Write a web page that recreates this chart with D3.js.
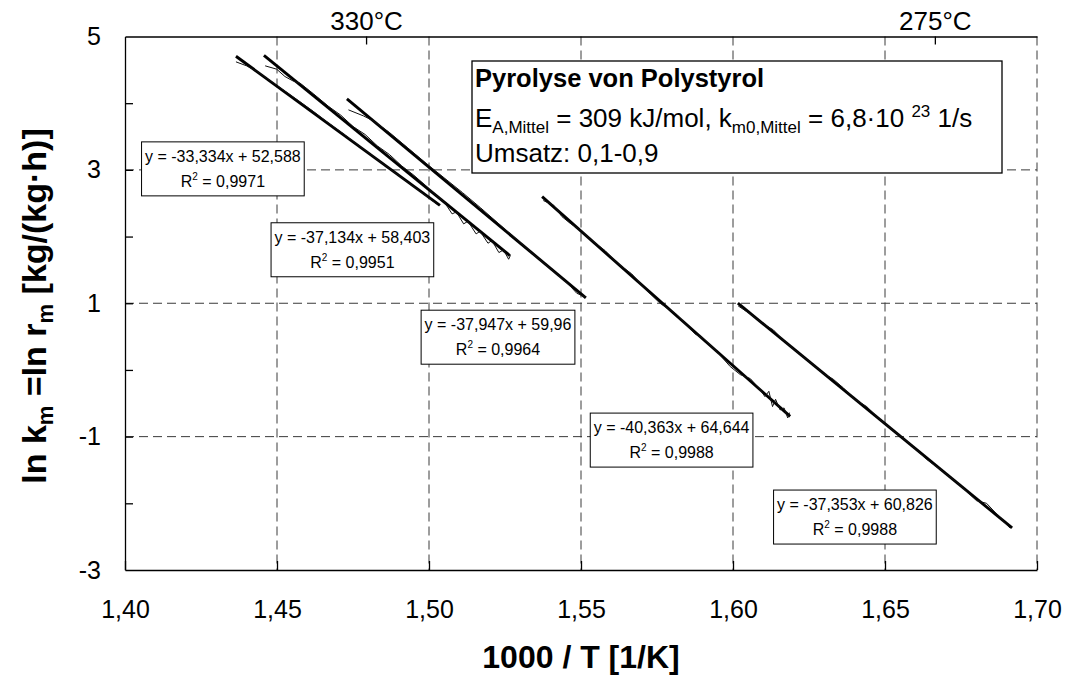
<!DOCTYPE html>
<html>
<head>
<meta charset="utf-8">
<script src="https://cdn.jsdelivr.net/npm/d3@7"></script>
<style>
  body { margin: 0; background: #fff; }
  svg { display: block; font-family: "Liberation Sans", Arial, sans-serif; }
</style>
</head>
<body>
<svg id="chart" width="1066" height="678"></svg>
<script>
// Arrhenius plot of polystyrene pyrolysis: ln k_m over 1000/T for five runs

// Measured curves (1000/T in 1/K, ln k_m)
const run1X = [1.4365, 1.4400, 1.4433, 1.4470, 1.4520, 1.4570, 1.4620, 1.4670, 1.4720, 1.4770, 1.4820, 1.4870, 1.4920, 1.4970, 1.5025];
const run1Y = [4.62, 4.56, 4.48, 4.36, 4.20, 4.04, 3.875, 3.70, 3.535, 3.36, 3.19, 3.02, 2.85, 2.68, 2.49];

const run2X = [1.4461, 1.4499, 1.4526, 1.4554, 1.4576, 1.4620, 1.4670, 1.4710, 1.4750, 1.4790, 1.4830, 1.4870, 1.4910, 1.4950, 1.4990, 1.5020, 1.5050, 1.5076, 1.5090, 1.5114, 1.5128, 1.5155, 1.5168, 1.5194, 1.5207, 1.5230, 1.5245, 1.5262, 1.5268];
const run2Y = [4.56, 4.51, 4.40, 4.33, 4.30, 4.14, 3.95, 3.82, 3.65, 3.53, 3.36, 3.23, 3.06, 2.92, 2.76, 2.63, 2.52, 2.34, 2.37, 2.19, 2.23, 2.04, 2.08, 1.90, 1.94, 1.76, 1.80, 1.66, 1.72];

const run3X = [1.4735, 1.4784, 1.4817, 1.4870, 1.4930, 1.4990, 1.5050, 1.5110, 1.5170, 1.5230, 1.5290, 1.5350, 1.5410, 1.5460, 1.5486, 1.5516];
const run3Y = [3.90, 3.81, 3.735, 3.56, 3.33, 3.10, 2.88, 2.66, 2.43, 2.19, 1.95, 1.71, 1.48, 1.28, 1.15, 1.09];

const run4X = [1.5376, 1.5410, 1.5437, 1.5464, 1.5500, 1.5530, 1.5579, 1.5620, 1.5667, 1.5710, 1.5760, 1.5815, 1.5850, 1.5875, 1.5903, 1.5950, 1.5991, 1.6024, 1.6057, 1.6090, 1.6105, 1.6118, 1.6130, 1.6140, 1.6155, 1.6168, 1.6180, 1.6186];
const run4Y = [2.54, 2.47, 2.30, 2.20, 2.09, 1.96, 1.79, 1.60, 1.44, 1.22, 1.00, 0.83, 0.66, 0.54, 0.47, 0.26, 0.05, -0.07, -0.13, -0.30, -0.40, -0.32, -0.55, -0.44, -0.60, -0.57, -0.72, -0.64];

const run5X = [1.6017, 1.6060, 1.6100, 1.6133, 1.6160, 1.6200, 1.6250, 1.6300, 1.6330, 1.6363, 1.6400, 1.6440, 1.6480, 1.6530, 1.6580, 1.6637, 1.6690, 1.6740, 1.6801, 1.6834, 1.6878, 1.6911];
const run5Y = [0.96, 0.83, 0.69, 0.60, 0.47, 0.31, 0.13, -0.06, -0.14, -0.27, -0.44, -0.55, -0.73, -0.92, -1.10, -1.34, -1.52, -1.70, -1.96, -2.00, -2.21, -2.37];

// Linear trend lines y = a*x + b over each run's range
const fitSlopes     = [-33.334, -37.134, -37.947, -40.363, -37.353];
const fitIntercepts = [52.588, 58.403, 59.96, 64.644, 60.826];
const fitFrom       = [1.4365, 1.4457, 1.4730, 1.5372, 1.6016];
const fitTo         = [1.5036, 1.5266, 1.5516, 1.6188, 1.6918];
const fitEquations  = ["y = -33,334x + 52,588", "y = -37,134x + 58,403", "y = -37,947x + 59,96", "y = -40,363x + 64,644", "y = -37,353x + 60,826"];
const fitR2         = ["0,9971", "0,9951", "0,9964", "0,9988", "0,9988"];

// Axis ticks
const xTicks = [1.40, 1.45, 1.50, 1.55, 1.60, 1.65, 1.70];
const xTickLabels = ["1,40", "1,45", "1,50", "1,55", "1,60", "1,65", "1,70"];
const yTicks = [-3, -1, 1, 3, 5];
const yTickLabels = ["-3", "-1", "1", "3", "5"];
const yMinorTicks = [-2, -1, 0, 1, 2, 3, 4];
const topTicks = [1.4793, 1.6664];
const topTickLabels = ["330°C", "275°C"];

// Layout: centres of the equation boxes in data units
const eqBoxCentersX = [1.4322, 1.4748, 1.5227, 1.5798, 1.6401];
const eqBoxCentersY = [3.015, 1.802, 0.491, -1.052, -2.206];

const svg = d3.select("#chart");
const x = d3.scaleLinear().domain([1.40, 1.70]).range([125, 1037]);
const y = d3.scaleLinear().domain([-3, 5]).range([570, 36.5]);

// dashed grid
const grid = svg.append("g")
  .attr("stroke", "#3a3a3a").attr("stroke-width", 1).attr("stroke-dasharray", "9,5").attr("fill", "none");
grid.selectAll("line.v").data(xTicks.slice(1)).join("line").attr("class", "v")
  .attr("x1", d => x(d)).attr("x2", d => x(d)).attr("y1", y(5)).attr("y2", y(-3));
grid.selectAll("line.h").data([-1, 1, 3]).join("line").attr("class", "h")
  .attr("x1", x(1.40)).attr("x2", x(1.70)).attr("y1", d => y(d)).attr("y2", d => y(d));

// axes
const axB = svg.append("g").attr("transform", `translate(0,${y(-3)})`)
  .call(d3.axisBottom(x).tickValues(xTicks).tickFormat((d, i) => xTickLabels[i])
    .tickSizeInner(-9).tickSizeOuter(0).tickPadding(30));
const axL = svg.append("g").attr("transform", `translate(${x(1.40)},0)`)
  .call(d3.axisLeft(y).tickValues(yTicks).tickFormat((d, i) => yTickLabels[i])
    .tickSizeInner(0).tickSizeOuter(0).tickPadding(24));
const axLm = svg.append("g").attr("transform", `translate(${x(1.40)},0)`)
  .call(d3.axisLeft(y).tickValues(yMinorTicks).tickFormat("")
    .tickSizeInner(-8).tickSizeOuter(0));
const axT = svg.append("g").attr("transform", `translate(0,${y(5)})`)
  .call(d3.axisTop(x).tickValues(topTicks).tickFormat((d, i) => topTickLabels[i])
    .tickSizeInner(-8).tickSizeOuter(0).tickPadding(7));
[axB, axL, axLm, axT].forEach(g => {
  g.selectAll("path.domain").attr("stroke", "#000").attr("stroke-width", 1.3);
  g.selectAll(".tick line").attr("stroke", "#000").attr("stroke-width", 1.3);
  g.selectAll("text").attr("fill", "#000").style("font-size", "25px")
    .style("font-family", "'Liberation Sans', Arial, sans-serif");
});
axT.selectAll("text").style("font-size", "26px");
axLm.select("path.domain").remove();

// axis titles
svg.append("text").attr("x", 581).attr("y", 668).attr("text-anchor", "middle")
  .style("font-size", "32px").style("font-weight", "bold").text("1000 / T [1/K]");

const yTitle = svg.append("text").attr("transform", "translate(46,306) rotate(-90)")
  .attr("text-anchor", "middle").style("font-size", "34px").style("font-weight", "bold");
yTitle.append("tspan").text("ln k");
yTitle.append("tspan").attr("dy", 7).style("font-size", "22px").text("m");
yTitle.append("tspan").attr("dy", -7).text(" =ln r");
yTitle.append("tspan").attr("dy", 7).style("font-size", "22px").text("m");
yTitle.append("tspan").attr("dy", -7).text(" [kg/(kg·h)]");

// runs
const runs = [[run1X, run1Y], [run2X, run2Y], [run3X, run3Y], [run4X, run4Y], [run5X, run5Y]];
const line = d3.line().x(d => x(d[0])).y(d => y(d[1]));

// trend lines
const fits = fitSlopes.map((a, i) => [
  [fitFrom[i], a * fitFrom[i] + fitIntercepts[i]],
  [fitTo[i], a * fitTo[i] + fitIntercepts[i]]
]);
svg.append("g").selectAll("path").data(fits).join("path")
  .attr("d", line).attr("fill", "none").attr("stroke", "#000").attr("stroke-width", 2.9);

// measured curves
svg.append("g").selectAll("path").data(runs.map(([xs, ys]) => xs.map((v, j) => [v, ys[j]]))).join("path")
  .attr("d", line).attr("fill", "none").attr("stroke", "#111").attr("stroke-width", 1)
  .attr("stroke-linejoin", "round");

// equation labels
fitEquations.forEach((eq, i) => {
  const cx = x(eqBoxCentersX[i]), cy = y(eqBoxCentersY[i]);
  const g = svg.append("g");
  const rect = g.append("rect").attr("fill", "#fff").attr("stroke", "#000").attr("stroke-width", 1);
  const t1 = g.append("text").attr("x", cx).attr("y", cy - 7).attr("text-anchor", "middle")
    .style("font-size", "16px").text(eq);
  const t2 = g.append("text").attr("x", cx).attr("y", cy + 18).attr("text-anchor", "middle").style("font-size", "16px");
  t2.append("tspan").text("R");
  t2.append("tspan").attr("dy", -7).style("font-size", "10px").text("2");
  t2.append("tspan").attr("dy", 7).text(" = " + fitR2[i]);
  const w = t1.node().getComputedTextLength() + 7;
  rect.attr("x", cx - w / 2).attr("y", cy - 27).attr("width", w).attr("height", 54);
});

// info box
const info = svg.append("g");
info.append("rect").attr("x", 472).attr("y", 61).attr("width", 530).attr("height", 112)
  .attr("fill", "#fff").attr("stroke", "#000").attr("stroke-width", 1.3);
info.append("text").attr("x", 475).attr("y", 87).style("font-size", "25.5px").style("font-weight", "bold")
  .text("Pyrolyse von Polystyrol");
const l2 = info.append("text").attr("x", 475).attr("y", 127).style("font-size", "26px");
l2.append("tspan").text("E");
l2.append("tspan").attr("dy", 6).style("font-size", "17px").text("A,Mittel");
l2.append("tspan").attr("dy", -6).text(" = 309 kJ/mol, k");
l2.append("tspan").attr("dy", 6).style("font-size", "17px").text("m0,Mittel");
l2.append("tspan").attr("dy", -6).text(" = 6,8·10 ");
l2.append("tspan").attr("dy", -10).style("font-size", "17px").text("23");
l2.append("tspan").attr("dy", 10).text(" 1/s");
info.append("text").attr("x", 475).attr("y", 162).style("font-size", "26px").text("Umsatz: 0,1-0,9");
</script>
</body>
</html>
